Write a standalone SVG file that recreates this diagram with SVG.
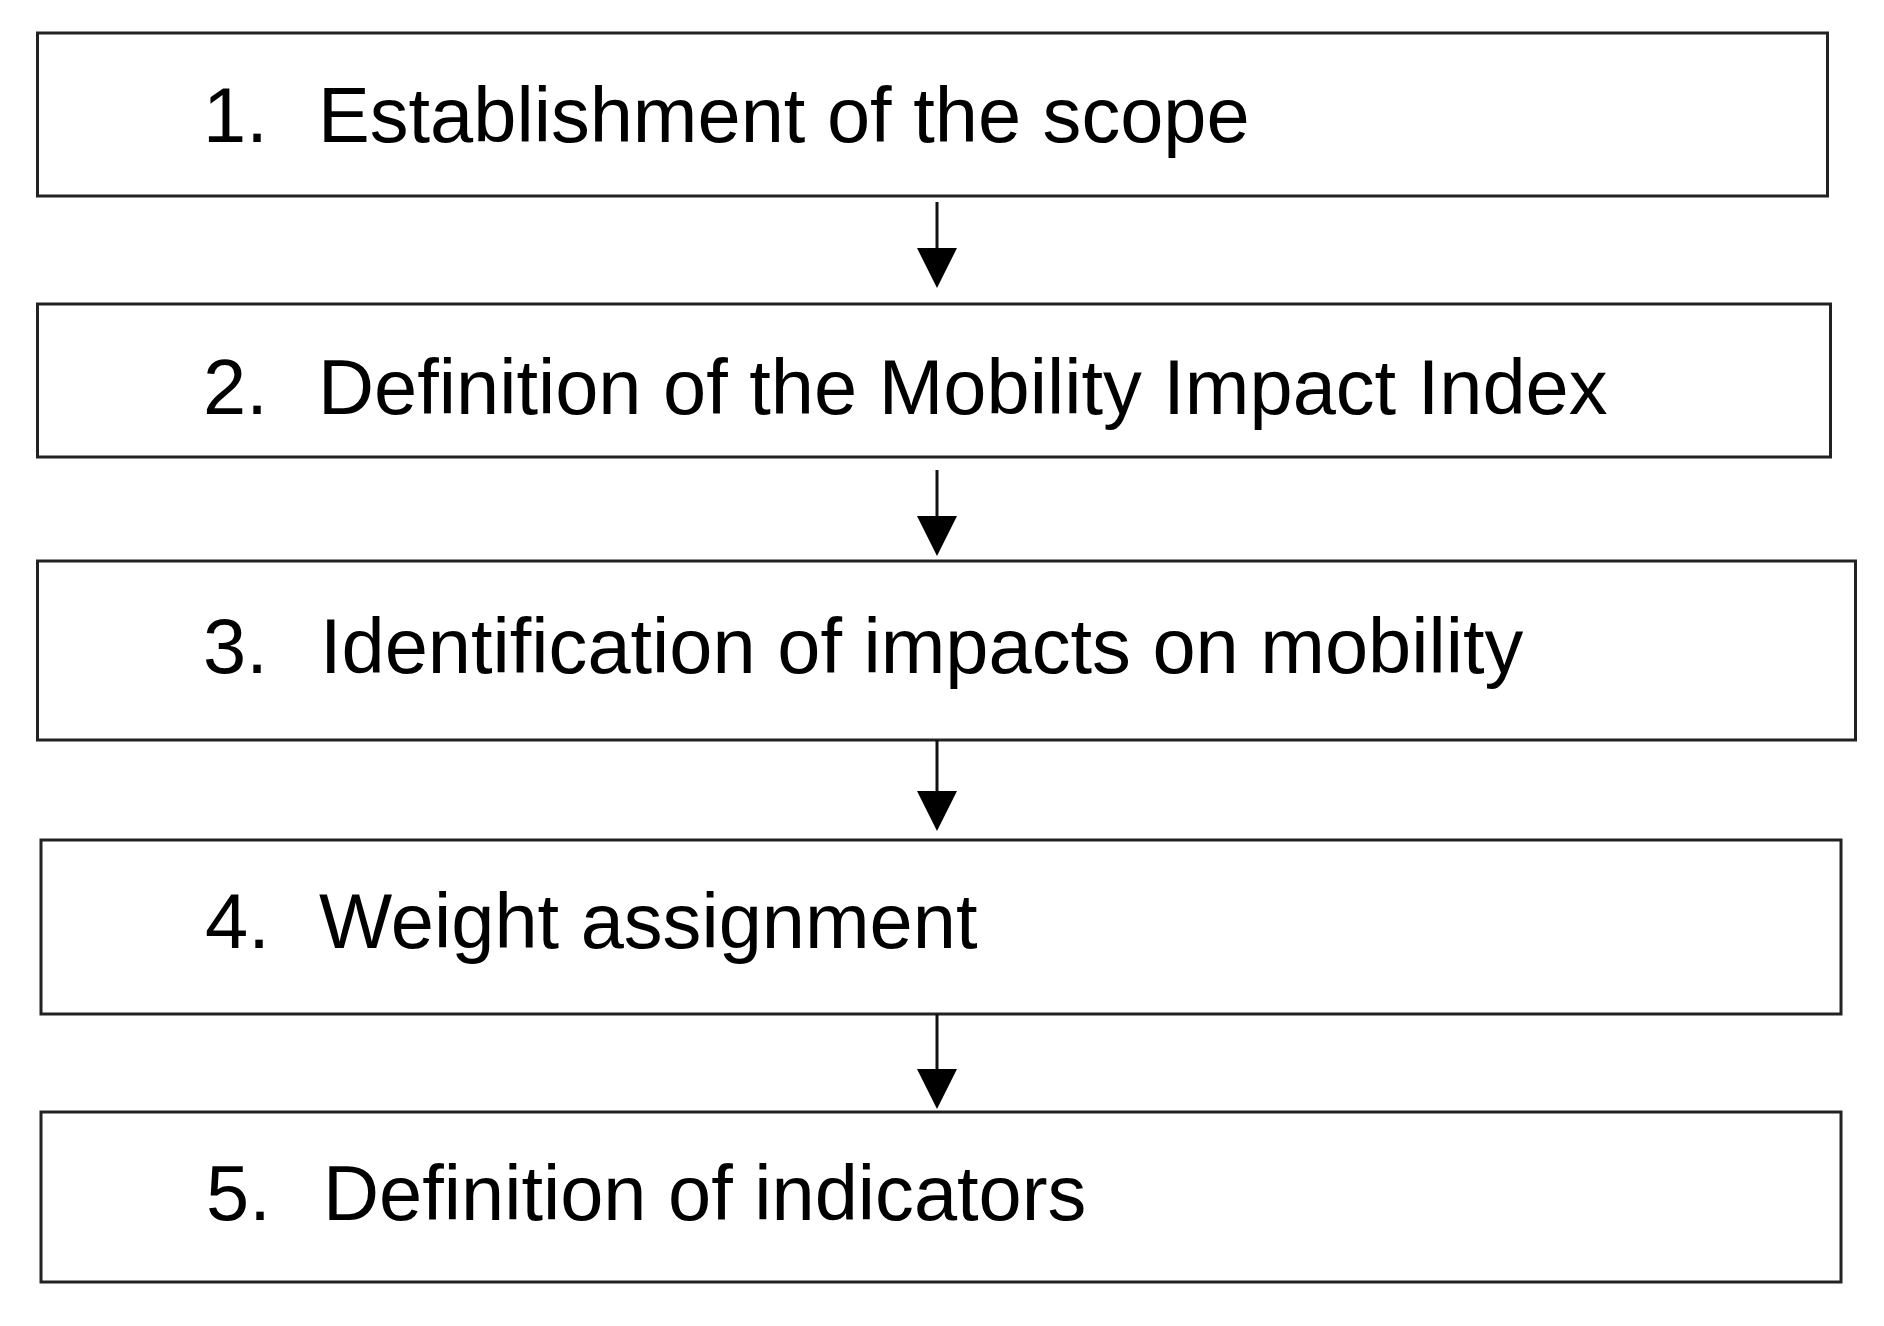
<svg xmlns="http://www.w3.org/2000/svg" width="1884" height="1326" viewBox="0 0 1884 1326">
<style>
.box{fill:#fff;stroke:#222;stroke-width:3}
.t{font-family:"Liberation Sans",Arial,sans-serif;font-size:77.6px;fill:#000}
.c{stroke:#111;stroke-width:3;fill:none}
.h{fill:#000}
</style>
<rect width="1884" height="1326" fill="#fff"/>
<g id="node1"><rect class="box" x="37.5" y="33" width="1790" height="163"/><text class="t" x="203" y="142">1.</text><text class="t" x="318" y="142">Establishment of the scope</text></g>
<g id="node2"><rect class="box" x="37.5" y="304" width="1793" height="153"/><text class="t" x="203" y="414">2.</text><text class="t" x="318" y="414">Definition of the Mobility Impact Index</text></g>
<g id="node3"><rect class="box" x="37.5" y="561" width="1818" height="179"/><text class="t" x="203" y="673">3.</text><text class="t" x="320" y="673">Identification of impacts on mobility</text></g>
<g id="node4"><rect class="box" x="41" y="840" width="1800" height="174"/><text class="t" x="205" y="948">4.</text><text class="t" x="319" y="948">Weight assignment</text></g>
<g id="node5"><rect class="box" x="41" y="1112" width="1800" height="170"/><text class="t" x="206" y="1220">5.</text><text class="t" x="323" y="1220">Definition of indicators</text></g>
<g id="connectors">
<line class="c" x1="937" y1="202" x2="937" y2="252"/><path class="h" d="M917,248 L957,248 L937,288 Z"/>
<line class="c" x1="937" y1="470" x2="937" y2="520"/><path class="h" d="M917,516 L957,516 L937,556 Z"/>
<line class="c" x1="937" y1="740" x2="937" y2="795"/><path class="h" d="M917,791 L957,791 L937,831 Z"/>
<line class="c" x1="937" y1="1014" x2="937" y2="1073"/><path class="h" d="M917,1069 L957,1069 L937,1109 Z"/>
</g>
</svg>
